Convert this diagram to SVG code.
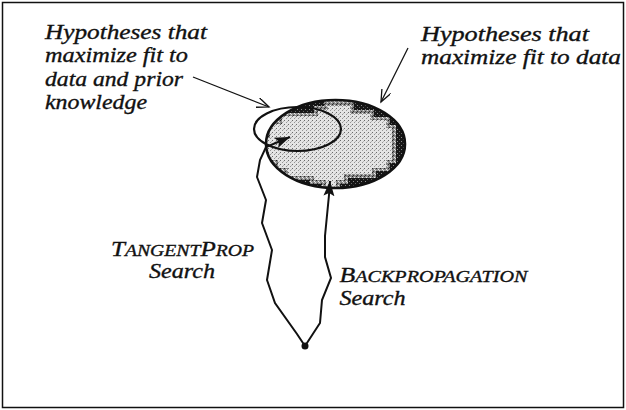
<svg xmlns="http://www.w3.org/2000/svg" width="626" height="410" viewBox="0 0 626 410">
<style>
  .t { font-family: "Liberation Serif", "Times New Roman", serif; font-style: italic; font-size: 21px; fill: #111; stroke: #111; stroke-width: 0.35; }
  .sc { font-size: 16.5px; }
  .thin { fill: none; stroke: #111; stroke-width: 1.3; }
  .path { fill: none; stroke: #111; stroke-width: 2; stroke-linejoin: miter; }
</style>
<defs>
  <marker id="open" markerWidth="14" markerHeight="12" refX="12" refY="5" orient="auto" markerUnits="userSpaceOnUse">
    <path d="M0,0 L12,5 L0,10" fill="none" stroke="#111" stroke-width="1.3"/>
  </marker>
  <marker id="solid" markerWidth="17" markerHeight="12" refX="15" refY="5.5" orient="auto" markerUnits="userSpaceOnUse">
    <path d="M0,0 L15,5.5 L0,11 L3,5.5 z" fill="#111"/>
  </marker>
  <pattern id="dk" width="4" height="4" patternUnits="userSpaceOnUse">
    <rect width="4" height="4" fill="#161616"/>
    <rect x="1" y="1" width="1" height="1" fill="#8a8a8a"/>
    <rect x="3" y="3" width="1" height="1" fill="#666"/>
  </pattern>
  <pattern id="md" width="4" height="4" patternUnits="userSpaceOnUse">
    <rect width="4" height="4" fill="#8c8c8c"/>
    <rect x="0" y="0" width="1" height="1" fill="#222"/>
    <rect x="2" y="1" width="1" height="1" fill="#eee"/>
    <rect x="1" y="3" width="1" height="1" fill="#333"/>
    <rect x="3" y="2" width="1" height="1" fill="#ddd"/>
  </pattern>
  <pattern id="lt" width="4" height="4" patternUnits="userSpaceOnUse">
    <rect width="4" height="4" fill="#e4e4e4"/>
    <rect x="0" y="0" width="1" height="1" fill="#6a6a6a"/>
    <rect x="2" y="2" width="1" height="1" fill="#959595"/>
    <rect x="3" y="1" width="1" height="1" fill="#b5b5b5"/>
  </pattern>
  <clipPath id="ec"><ellipse cx="335.5" cy="144" rx="69.5" ry="44"/></clipPath>
</defs>

<rect x="2.5" y="2.5" width="621" height="405" fill="#fff" stroke="#111" stroke-width="1.5"/>

<g id="region-data">
  <ellipse cx="335.5" cy="144" rx="69.5" ry="44" fill="url(#dk)"/>
  <g clip-path="url(#ec)">
    <path d="M267,134 V121 H278 V113 H314 V106 H324 V100 H354 V110 H374 V117 H390 V125 H396 V163 H390 V171 H376 V178 H348 V184 H340 V190 H322 V184 H310 V180 H284 V172 H274 V164 H262 V134 Z" fill="url(#md)"/>
    <path d="M270,138 V124 H282 V116 H318 V110 H328 V106 H350 V114 H370 V120 H386 V128 H392 V160 H386 V168 H372 V174 H344 V180 H336 V190 H326 V180 H314 V176 H288 V168 H278 V160 H266 V138 Z" fill="url(#lt)"/>
  </g>
  <ellipse cx="335.5" cy="144" rx="69.5" ry="44" fill="none" stroke="#111" stroke-width="2.6"/>
</g>

<g id="region-prior">
  <ellipse cx="297.5" cy="129" rx="43.5" ry="22" fill="none" stroke="#111" stroke-width="2.2"/>
</g>

<g id="start">
  <circle cx="305" cy="346" r="3.5" fill="#111"/>
</g>

<g id="connectors">
  <line class="thin" x1="193" y1="77" x2="269" y2="107" marker-end="url(#open)"/>
  <line class="thin" x1="408" y1="48" x2="381" y2="102" marker-end="url(#open)"/>
  <polyline class="path" points="305,346 297,334 275,303 267,280 272,250 262,223 266,200 257,177 260,160 266,147 290,137" marker-end="url(#solid)"/>
  <polyline class="path" points="305,346 320,323 322,300 331,278 325,257 325,236 329,195 330,181" marker-end="url(#solid)"/>
</g>

<g id="label-prior">
  <text class="t" x="45" y="38.5" textLength="162" lengthAdjust="spacingAndGlyphs">Hypotheses that</text>
  <text class="t" x="45" y="62" textLength="143" lengthAdjust="spacingAndGlyphs">maximize fit to</text>
  <text class="t" x="45" y="85.5" textLength="138" lengthAdjust="spacingAndGlyphs">data and prior</text>
  <text class="t" x="45" y="109" textLength="102" lengthAdjust="spacingAndGlyphs">knowledge</text>
</g>

<g id="label-data">
  <text class="t" x="421" y="40.5" textLength="168" lengthAdjust="spacingAndGlyphs">Hypotheses that</text>
  <text class="t" x="421" y="63.5" textLength="200" lengthAdjust="spacingAndGlyphs">maximize fit to data</text>
</g>

<g id="label-tangentprop">
  <text class="t" x="111" y="256" textLength="143" lengthAdjust="spacingAndGlyphs">T<tspan class="sc">ANGENT</tspan>P<tspan class="sc">ROP</tspan></text>
  <text class="t" x="149" y="278" textLength="66" lengthAdjust="spacingAndGlyphs">Search</text>
</g>

<g id="label-backprop">
  <text class="t" x="339.5" y="282" textLength="188" lengthAdjust="spacingAndGlyphs">B<tspan class="sc">ACKPROPAGATION</tspan></text>
  <text class="t" x="339.5" y="305" textLength="66" lengthAdjust="spacingAndGlyphs">Search</text>
</g>
</svg>
